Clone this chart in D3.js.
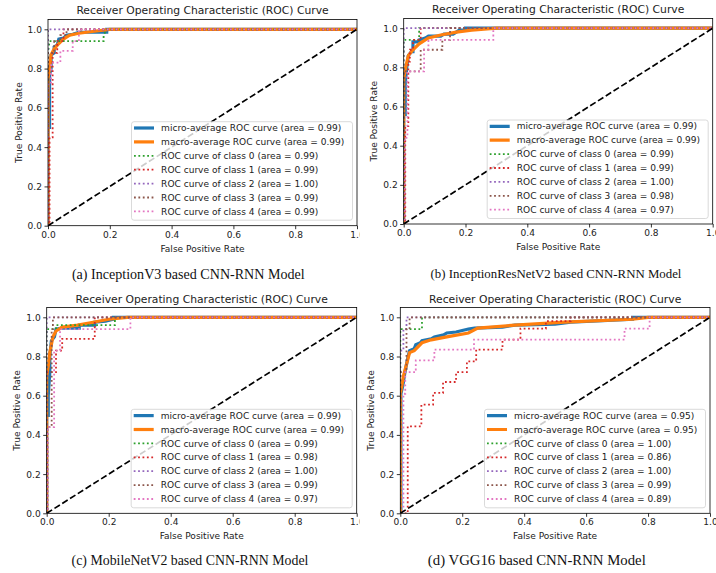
<!DOCTYPE html>
<html>
<head>
<meta charset="utf-8">
<script src="https://cdn.jsdelivr.net/npm/d3@7"></script>
<style>
  html, body { margin: 0; padding: 0; background: #fff; }
  svg { display: block; }
</style>
</head>
<body>
<svg id="fig" width="716" height="573"></svg>
<script>
// ---- Labels ----
const chartTitle = "Receiver Operating Characteristic (ROC) Curve";
const xLabel = "False Positive Rate";
const yLabel = "True Positive Rate";
const captions = [
  "(a) InceptionV3 based CNN-RNN Model",
  "(b) InceptionResNetV2 based CNN-RNN Model",
  "(c) MobileNetV2 based CNN-RNN Model",
  "(d) VGG16 based CNN-RNN Model"
];
const curveNames = [
  "micro-average ROC curve", "macro-average ROC curve",
  "ROC curve of class 0", "ROC curve of class 1", "ROC curve of class 2",
  "ROC curve of class 3", "ROC curve of class 4"
];
const tickValues = [0.0, 0.2, 0.4, 0.6, 0.8, 1.0];

// ---- AUC per curve (micro, macro, class 0..4) ----
const aucA = [0.99, 0.99, 0.99, 0.99, 1.00, 0.99, 0.99];
const aucB = [0.99, 0.99, 0.99, 0.99, 1.00, 0.98, 0.97];
const aucC = [0.99, 0.99, 0.99, 0.98, 1.00, 0.99, 0.97];
const aucD = [0.95, 0.95, 1.00, 0.86, 1.00, 0.99, 0.89];

// ---- ROC points [fpr, tpr] : InceptionV3 ----
const microA = [[0,0],[0,0.5],[0.005,0.5],[0.005,0.77],[0.01,0.8],[0.01,0.87],[0.02,0.88],[0.02,0.91],[0.03,0.92],[0.035,0.95],[0.05,0.955],[0.06,0.97],[0.08,0.975],[0.1,0.985],[0.19,0.985],[0.19,1],[1,1]];
const macroA = [[0,0],[0,0.75],[0.005,0.8],[0.01,0.87],[0.02,0.9],[0.03,0.92],[0.05,0.95],[0.07,0.97],[0.1,0.98],[0.15,0.99],[0.2,1],[1,1]];
const class0A = [[0,0],[0,0.88],[0.005,0.94],[0.18,0.94],[0.18,0.97],[0.19,1],[1,1]];
const class1A = [[0,0],[0.005,0],[0.005,0.45],[0.015,0.45],[0.015,0.88],[0.03,0.88],[0.03,0.94],[0.05,0.94],[0.05,1],[1,1]];
const class2A = [[0,0],[0,1],[1,1]];
const class3A = [[0,0],[0,0.88],[0.02,0.88],[0.02,0.94],[0.04,0.94],[0.04,0.97],[0.06,0.97],[0.06,1],[1,1]];
const class4A = [[0,0],[0,0.72],[0.01,0.72],[0.01,0.83],[0.04,0.83],[0.04,0.89],[0.08,0.89],[0.08,0.94],[0.1,0.94],[0.1,1],[1,1]];

// ---- InceptionResNetV2 ----
const microB = [[0,0],[0,0.56],[0.005,0.56],[0.005,0.72],[0.01,0.8],[0.015,0.86],[0.025,0.88],[0.03,0.88],[0.03,0.93],[0.05,0.93],[0.05,0.94],[0.07,0.95],[0.08,0.96],[0.12,0.96],[0.13,0.97],[0.16,0.97],[0.17,0.98],[0.18,0.99],[0.2,0.99],[0.2,1],[1,1]];
const macroB = [[0,0],[0,0.74],[0.005,0.79],[0.015,0.86],[0.03,0.89],[0.05,0.92],[0.08,0.95],[0.12,0.965],[0.17,0.98],[0.22,0.99],[0.3,1],[1,1]];
const class0B = [[0,0],[0,0.94],[0.05,0.94],[0.05,1],[1,1]];
const class1B = [[0,0],[0.005,0],[0.005,0.5],[0.015,0.5],[0.015,0.83],[0.02,0.83],[0.02,0.89],[0.03,0.89],[0.03,0.94],[0.055,0.94],[0.055,1],[1,1]];
const class2B = [[0,0],[0,1],[1,1]];
const class3B = [[0,0],[0,0.78],[0.055,0.78],[0.055,0.89],[0.125,0.89],[0.125,0.94],[0.15,0.94],[0.15,1],[1,1]];
const class4B = [[0,0],[0.003,0],[0.003,0.44],[0.012,0.44],[0.012,0.78],[0.066,0.78],[0.066,0.89],[0.08,0.89],[0.08,0.94],[0.29,0.94],[0.29,1],[1,1]];

// ---- MobileNetV2 ----
const microC = [[0,0],[0,0.5],[0.005,0.5],[0.005,0.6],[0.01,0.72],[0.01,0.8],[0.015,0.88],[0.025,0.9],[0.03,0.94],[0.05,0.945],[0.105,0.945],[0.105,0.96],[0.155,0.96],[0.155,0.975],[0.19,0.98],[0.215,0.99],[0.215,1],[1,1]];
const macroC = [[0,0],[0,0.7],[0.005,0.75],[0.01,0.82],[0.02,0.9],[0.03,0.93],[0.05,0.95],[0.1,0.96],[0.15,0.975],[0.2,0.99],[0.26,1],[1,1]];
const class0C = [[0,0],[0,0.94],[0.03,0.94],[0.03,0.96],[0.22,0.96],[0.22,1],[1,1]];
const class1C = [[0,0],[0,0.72],[0.03,0.72],[0.03,0.83],[0.05,0.83],[0.05,0.89],[0.155,0.89],[0.155,1],[1,1]];
const class2C = [[0,0],[0,1],[1,1]];
const class3C = [[0,0],[0.003,0],[0.003,0.44],[0.016,0.44],[0.016,0.94],[0.02,0.94],[0.02,1],[1,1]];
const class4C = [[0,0],[0.003,0],[0.003,0.44],[0.024,0.44],[0.024,0.83],[0.043,0.83],[0.043,0.94],[0.27,0.94],[0.27,1],[1,1]];

// ---- VGG16 ----
const microD = [[0,0],[0.002,0],[0.002,0.61],[0.008,0.65],[0.015,0.72],[0.02,0.76],[0.025,0.8],[0.03,0.83],[0.045,0.84],[0.05,0.86],[0.065,0.87],[0.07,0.88],[0.1,0.89],[0.11,0.9],[0.14,0.91],[0.15,0.92],[0.18,0.925],[0.22,0.94],[0.24,0.945],[0.33,0.95],[0.37,0.96],[0.5,0.965],[0.55,0.975],[0.75,0.99],[0.75,1],[1,1]];
const macroD = [[0,0],[0,0.61],[0.005,0.65],[0.01,0.7],[0.02,0.76],[0.03,0.82],[0.045,0.83],[0.07,0.87],[0.1,0.885],[0.15,0.9],[0.22,0.92],[0.25,0.945],[0.37,0.96],[0.53,0.975],[0.75,0.99],[0.8,1],[1,1]];
const class0D = [[0,0],[0,0.94],[0.07,0.94],[0.07,1],[1,1]];
const class1D = [[0,0],[0.024,0],[0.024,0.444],[0.068,0.444],[0.068,0.554],[0.106,0.554],[0.106,0.614],[0.138,0.614],[0.138,0.67],[0.18,0.67],[0.18,0.72],[0.215,0.72],[0.215,0.775],[0.245,0.775],[0.245,0.835],[0.33,0.835],[0.33,0.886],[0.388,0.886],[0.388,0.942],[0.47,0.942],[0.47,0.98],[0.55,0.98],[0.55,1],[1,1]];
const class2D = [[0,0],[0,0.83],[0.01,0.83],[0.01,0.94],[0.02,0.94],[0.02,1],[1,1]];
const class3D = [[0,0],[0,0.72],[0.02,0.72],[0.02,0.94],[0.03,0.94],[0.03,1],[1,1]];
const class4D = [[0,0],[0.01,0],[0.01,0.61],[0.016,0.61],[0.016,0.72],[0.05,0.72],[0.05,0.78],[0.11,0.78],[0.11,0.835],[0.238,0.835],[0.238,0.886],[0.724,0.886],[0.724,0.942],[0.805,0.942],[0.805,1],[1,1]];

const diagonal = [[0,0],[1,1]];

// ---- Per-panel geometry: plot box in px, clip band, caption placement ----
const panels = [
  { curves: [microA, macroA, class0A, class1A, class2A, class3A, class4A], auc: aucA, caption: captions[0],
    left: 48, right: 357, zeroY: 225.7, oneY: 29.3, clipX0: 0, clipX1: 359.5,
    capX: 188.3, capY: 278.5, capW: 233 },
  { curves: [microB, macroB, class0B, class1B, class2B, class3B, class4B], auc: aucB, caption: captions[1],
    left: 403.7, right: 712.7, zeroY: 224, oneY: 28.2, clipX0: 359.5, clipX1: 716,
    capX: 556, capY: 277.8, capW: 251 },
  { curves: [microC, macroC, class0C, class1C, class2C, class3C, class4C], auc: aucC, caption: captions[2],
    left: 46.7, right: 356.7, zeroY: 513.3, oneY: 317.3, clipX0: 0, clipX1: 359.5,
    capX: 190, capY: 564.5, capW: 237 },
  { curves: [microD, macroD, class0D, class1D, class2D, class3D, class4D], auc: aucD, caption: captions[3],
    left: 400.3, right: 710, zeroY: 513.3, oneY: 317.3, clipX0: 359.5, clipX1: 716,
    capX: 536.8, capY: 564.5, capW: 218 }
];

// ---- Line styles (micro, macro, class 0..4) ----
const dotted = "1.8,2.6";
const styles = [
  { color: "#1f77b4", width: 3.2, dash: null },
  { color: "#ff7f0e", width: 3.2, dash: null },
  { color: "#2ca02c", width: 1.8, dash: dotted },
  { color: "#d62728", width: 1.8, dash: dotted },
  { color: "#9467bd", width: 1.8, dash: dotted },
  { color: "#8c564b", width: 1.8, dash: dotted },
  { color: "#e377c2", width: 1.8, dash: dotted }
];

const FONT = "'DejaVu Sans', sans-serif";
const SMALL = 9.05;
const svg = d3.select("#fig");
const defs = svg.append("defs");

panels.forEach((p, i) => {
  const clipId = "clip-panel-" + i;
  defs.append("clipPath").attr("id", clipId)
    .append("rect").attr("x", p.clipX0).attr("y", 0)
    .attr("width", p.clipX1 - p.clipX0).attr("height", 573);
  const plotClipId = "clip-plot-" + i;

  const x = d3.scaleLinear().domain([0, 1]).range([p.left, p.right]);
  const unit = p.zeroY - p.oneY;
  const y = d3.scaleLinear().domain([0, 1.05]).range([p.zeroY, p.zeroY - 1.05 * unit]);
  const top = y(1.05);

  defs.append("clipPath").attr("id", plotClipId)
    .append("rect").attr("x", p.left).attr("y", top)
    .attr("width", p.right - p.left).attr("height", p.zeroY - top);

  const g = svg.append("g").attr("clip-path", `url(#${clipId})`);

  // ROC curves, then the chance diagonal
  const plot = g.append("g").attr("clip-path", `url(#${plotClipId})`);
  const line = d3.line().x(d => x(d[0])).y(d => y(d[1]));
  p.curves.forEach((pts, k) => {
    const s = styles[k];
    plot.append("path").datum(pts)
      .attr("d", line)
      .attr("fill", "none")
      .attr("stroke", s.color)
      .attr("stroke-width", s.width)
      .attr("stroke-dasharray", s.dash)
      .attr("stroke-linejoin", "miter");
  });
  plot.append("path").datum(diagonal)
    .attr("d", line)
    .attr("fill", "none")
    .attr("stroke", "#000")
    .attr("stroke-width", 1.7)
    .attr("stroke-dasharray", "6.4,2.8");

  // axes
  const fmt = d3.format(".1f");
  const xAxis = g.append("g").attr("transform", `translate(0,${p.zeroY})`)
    .call(d3.axisBottom(x).tickValues(tickValues).tickFormat(fmt).tickSize(3.5).tickPadding(2));
  const yAxis = g.append("g").attr("transform", `translate(${p.left},0)`)
    .call(d3.axisLeft(y).tickValues(tickValues).tickFormat(fmt).tickSize(3.5).tickPadding(2.5));
  [xAxis, yAxis].forEach(ax => {
    ax.select(".domain").remove();
    ax.selectAll("line").attr("stroke", "#000").attr("stroke-width", 0.8);
    ax.selectAll("text").attr("font-family", FONT).attr("font-size", SMALL).attr("fill", "#222");
  });

  // frame
  g.append("rect").attr("x", p.left).attr("y", top)
    .attr("width", p.right - p.left).attr("height", p.zeroY - top)
    .attr("fill", "none").attr("stroke", "#000").attr("stroke-width", 0.8);

  const cx = (p.left + p.right) / 2;
  g.append("text").text(chartTitle)
    .attr("x", cx).attr("y", top - 5)
    .attr("text-anchor", "middle").attr("font-family", FONT)
    .attr("font-size", 10.75).attr("fill", "#222");
  g.append("text").text(xLabel)
    .attr("x", cx).attr("y", p.zeroY + 26)
    .attr("text-anchor", "middle").attr("font-family", FONT)
    .attr("font-size", SMALL).attr("fill", "#222");
  g.append("text").text(yLabel)
    .attr("transform", `translate(${p.left - 26.5},${y(0.525)}) rotate(-90)`)
    .attr("text-anchor", "middle").attr("font-family", FONT)
    .attr("font-size", SMALL).attr("fill", "#222");

  // legend
  const lw = 221, lh = 98.5;
  const lx = p.right - 4.5 - lw, ly = p.zeroY - 5.5 - lh;
  const leg = g.append("g").attr("transform", `translate(${lx},${ly})`);
  leg.append("rect").attr("width", lw).attr("height", lh).attr("rx", 2.5)
    .attr("fill", "#fff").attr("fill-opacity", 0.8)
    .attr("stroke", "#d0d0d0").attr("stroke-width", 0.8);
  curveNames.forEach((name, k) => {
    const ry = 6.3 + k * 13.9;
    const s = styles[k];
    leg.append("line").attr("x1", 2.5).attr("x2", 22.5).attr("y1", ry).attr("y2", ry)
      .attr("stroke", s.color).attr("stroke-width", s.width)
      .attr("stroke-dasharray", s.dash);
    leg.append("text").text(`${name} (area = ${p.auc[k].toFixed(2)})`)
      .attr("x", 29.6).attr("y", ry).attr("dy", "0.35em")
      .attr("font-family", FONT).attr("font-size", SMALL).attr("fill", "#222");
  });

  // caption under the subfigure, sized to its printed width
  const cap = svg.append("text").text(p.caption)
    .attr("x", p.capX).attr("y", p.capY)
    .attr("text-anchor", "middle")
    .attr("font-family", "'Liberation Serif', 'Times New Roman', serif")
    .attr("font-size", 14).attr("fill", "#111");
  const w = cap.node().getComputedTextLength();
  if (w > 0) cap.attr("font-size", 14 * p.capW / w);
});
</script>
</body>
</html>
